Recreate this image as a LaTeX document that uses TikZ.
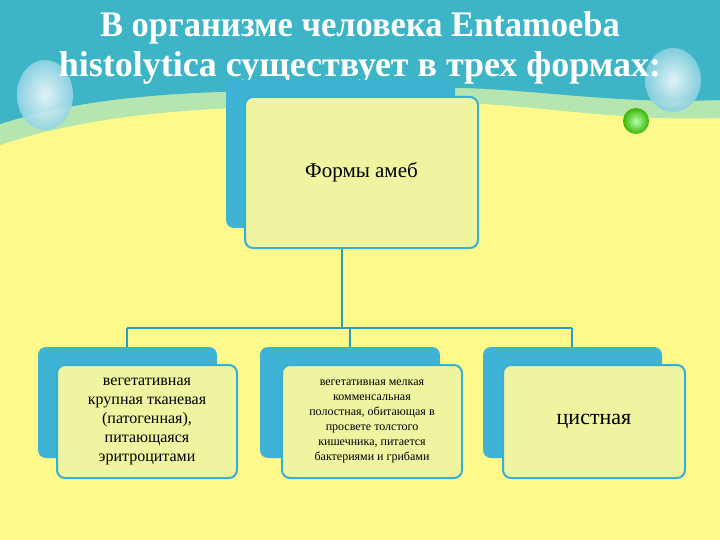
\documentclass[tikz,border=0pt]{standalone}
\usepackage{fontspec}
\setmainfont{Liberation Serif}
\begin{document}
\begin{tikzpicture}[x=1pt,y=-1pt,
  backbox/.style={fill=blueback,rounded corners=8pt},
  frontbox/.style={fill=frontfill,draw=frontline,line width=2pt,rounded corners=8pt},
  conn/.style={draw=connline,line width=1.5pt}]
\definecolor{blueback}{HTML}{3FB3D6}
\definecolor{frontfill}{HTML}{EEF4A0}
\definecolor{frontline}{HTML}{3AAED3}
\definecolor{connline}{HTML}{2E9AC0}
\definecolor{bgyellow}{HTML}{FFF98C}
\definecolor{teal}{HTML}{3DB5C6}
\definecolor{wavegreen}{HTML}{B5E6B0}
\definecolor{bubble}{HTML}{A8DCEB}
\useasboundingbox (0,0) rectangle (720,540);
\fill[bgyellow] (0,0) rectangle (720,540);
\fill[wavegreen] (0,0) -- (720,0) -- (720,118) .. controls (600,122) and (520,100) .. (420,103) .. controls (250,107) and (120,105) .. (0,145) -- cycle;
\fill[teal] (0,0) -- (720,0) -- (720,100) .. controls (600,105) and (520,85) .. (420,88) .. controls (250,92) and (120,86) .. (0,124) -- cycle;
\shade[inner color=white!85!bubble,outer color=bubble!80!teal,opacity=0.9] (45,95) ellipse (28 and 35);
\shade[inner color=white!85!bubble,outer color=bubble!70!teal,opacity=0.9] (673,80) ellipse (28 and 32);
\shade[inner color=green!30,outer color=green!60!black!70!lime] (636,121) circle (13);
\node[text=white,font=\bfseries\fontsize{30}{40}\selectfont,align=center] (title) at (360,48) {\scalebox{1.15}[1.2]{В организме человека Entamoeba}\\\scalebox{1.2}[1.2]{histolytica существует в трех формах:}};
\fill[backbox] (226,80) rectangle (455,228);
\node[frontbox,minimum width=233,minimum height=151,font=\fontsize{21}{24}\selectfont] (top) at (361.5,172.5) {Формы амеб};
\coordinate (hub) at (342,328);
\coordinate (l) at (127,328);
\coordinate (r) at (572,328);
\coordinate (m) at (350,328);
\draw[conn] (top.south -| hub) -- (hub);
\draw[conn] (l) -- (r);
\draw[conn] (l) -- ++(0,20);
\draw[conn] (m) -- ++(0,20);
\draw[conn] (r) -- ++(0,20);
\fill[backbox] (38,347) rectangle (217,458);
\fill[backbox] (260,347) rectangle (440,458);
\fill[backbox] (483,347) rectangle (662,458);
\node[frontbox,minimum width=180,minimum height=113,align=center,font=\fontsize{16}{19}\selectfont] (a) at (147,421.5) {вегетативная\\крупная тканевая\\(патогенная),\\питающаяся\\эритроцитами};
\node[frontbox,minimum width=180,minimum height=113,align=center,font=\fontsize{12}{15}\selectfont] (b) at (372,421.5) {вегетативная мелкая\\комменсальная\\полостная, обитающая в\\просвете толстого\\кишечника, питается\\бактериями и грибами};
\node[frontbox,minimum width=182,minimum height=113,font=\fontsize{22}{24}\selectfont] (c) at (594,421.5) {цистная};
\end{tikzpicture}
\end{document}
